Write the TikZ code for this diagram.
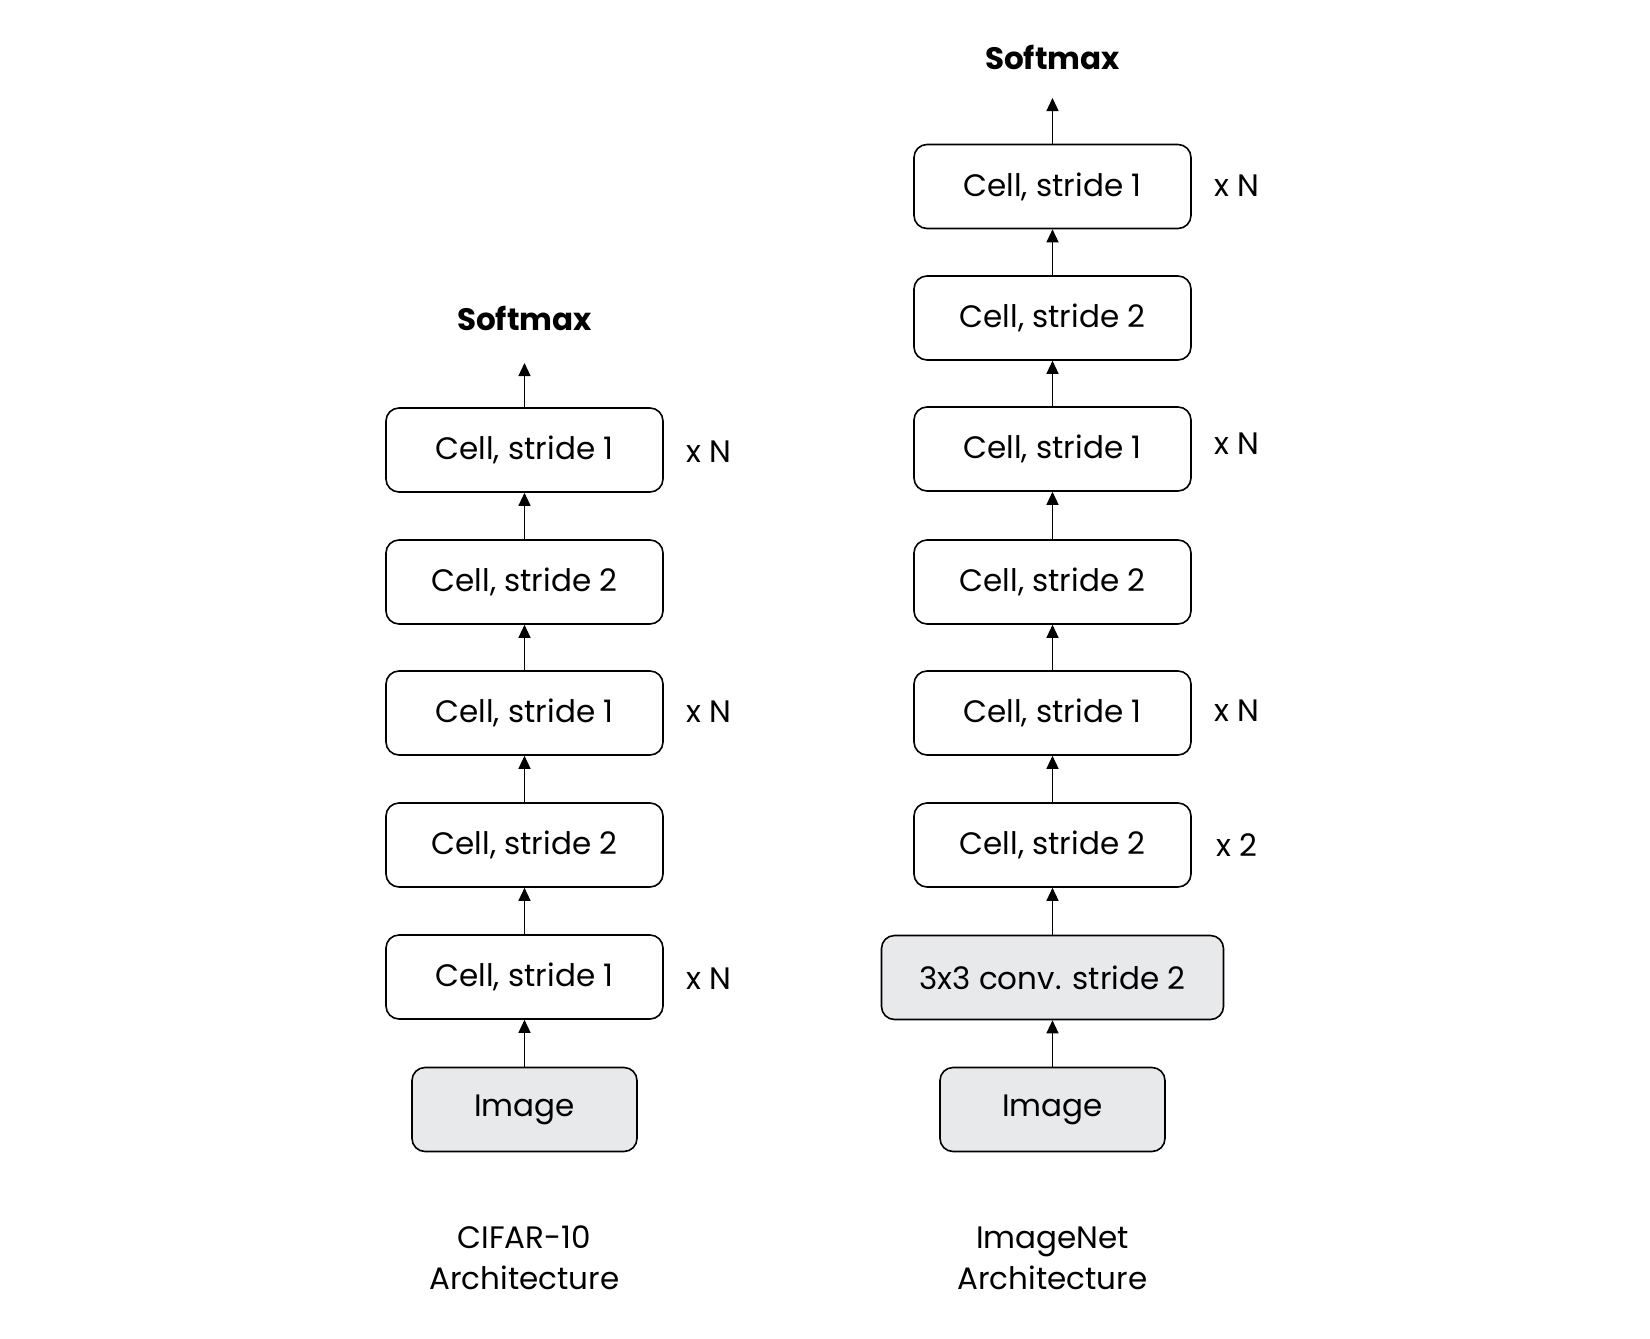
\documentclass[tikz,border=0pt]{standalone}
\usepackage{fontspec}
\setmainfont{Poppins}
\usetikzlibrary{arrows.meta}
\definecolor{boxgray}{HTML}{E8E9EB}
\begin{document}
\begin{tikzpicture}[x=1pt,y=-1pt,
  cellbox/.style={draw=black,line width=1.6pt,rounded corners=13pt,minimum width=277pt,minimum height=84pt,inner sep=0pt,font=\fontsize{31}{36}\selectfont},
  graybox/.style={cellbox,fill=boxgray},
  lbl/.style={font=\fontsize{31}{36}\selectfont,inner sep=0pt},
  title/.style={font=\fontsize{31}{36}\selectfont\bfseries,inner sep=0pt},
  captext/.style={font=\fontsize{31}{41}\selectfont,align=center,inner sep=0pt},
  arr/.style={-{Triangle[length=13pt,width=12pt]},line width=1.3pt}]
\useasboundingbox (0,0) rectangle (1650,1339);
% left column
\node[title] (ls) at (524.5,318) {Softmax};
\coordinate (lst) at (524.5,363);
\node[cellbox] (l5) at (524.5,450) {Cell, stride 1};
\node[cellbox] (l4) at (524.5,582) {Cell, stride 2};
\node[cellbox] (l3) at (524.5,713) {Cell, stride 1};
\node[cellbox] (l2) at (524.5,845) {Cell, stride 2};
\node[cellbox] (l1) at (524.5,977) {Cell, stride 1};
\node[graybox,minimum width=225pt] (li) at (524.5,1109.5) {Image};
\node[lbl] (ln5) at (709,452) {x N};
\node[lbl] (ln3) at (709,712) {x N};
\node[lbl] (ln1) at (709,979) {x N};
\node[captext] (lc) at (524.5,1258) {CIFAR-10\\Architecture};
\draw[arr] (li) -- (l1);
\draw[arr] (l1) -- (l2);
\draw[arr] (l2) -- (l3);
\draw[arr] (l3) -- (l4);
\draw[arr] (l4) -- (l5);
\draw[arr] (l5) -- (lst);
% right column
\node[title] (rs) at (1052.5,57) {Softmax};
\coordinate (rst) at (1052.5,98);
\node[cellbox] (r7) at (1052.5,186.5) {Cell, stride 1};
\node[cellbox] (r6) at (1052.5,318) {Cell, stride 2};
\node[cellbox] (r5) at (1052.5,449) {Cell, stride 1};
\node[cellbox] (r4) at (1052.5,582) {Cell, stride 2};
\node[cellbox] (r3) at (1052.5,713) {Cell, stride 1};
\node[cellbox] (r2) at (1052.5,845) {Cell, stride 2};
\node[graybox,minimum width=342pt] (rc) at (1052.5,977.5) {3x3 conv. stride 2};
\node[graybox,minimum width=225pt] (ri) at (1052.5,1109.5) {Image};
\node[lbl] (rn7) at (1237,186) {x N};
\node[lbl] (rn5) at (1237,444) {x N};
\node[lbl] (rn3) at (1237,711) {x N};
\node[lbl] (rn2) at (1237,845) {x 2};
\node[captext] (rcap) at (1052.5,1258) {ImageNet\\Architecture};
\draw[arr] (ri) -- (rc);
\draw[arr] (rc) -- (r2);
\draw[arr] (r2) -- (r3);
\draw[arr] (r3) -- (r4);
\draw[arr] (r4) -- (r5);
\draw[arr] (r5) -- (r6);
\draw[arr] (r6) -- (r7);
\draw[arr] (r7) -- (rst);
\end{tikzpicture}
\end{document}
